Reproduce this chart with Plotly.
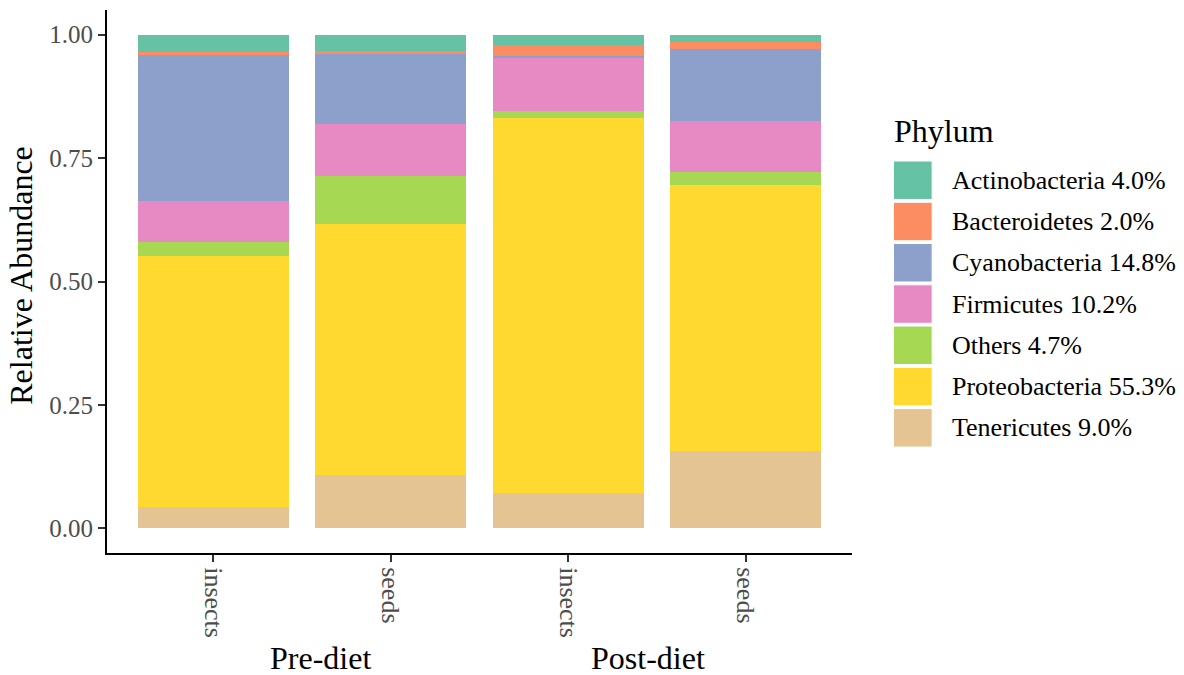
import plotly.graph_objects as go

# Samples (diet phase x food type)
sample_pos = [1, 2, 3, 4]
sample_labels = ["insects", "seeds", "insects", "seeds"]
phase_labels = ["Pre-diet", "Post-diet"]
phase_pos = [1.606, 3.45]

# Relative abundance per phylum, one value per sample
tenericutes = [0.0425, 0.108, 0.071, 0.157]
proteobacteria = [0.5095, 0.508, 0.760, 0.538]
others = [0.029, 0.097, 0.014, 0.027]
firmicutes = [0.082, 0.106, 0.107, 0.103]
cyanobacteria = [0.296, 0.142, 0.005, 0.145]
bacteroidetes = [0.005, 0.005, 0.022, 0.016]
actinobacteria = [0.036, 0.034, 0.021, 0.014]

phyla = ["Actinobacteria", "Bacteroidetes", "Cyanobacteria", "Firmicutes",
         "Others", "Proteobacteria", "Tenericutes"]
legend_labels = ["Actinobacteria 4.0%", "Bacteroidetes 2.0%", "Cyanobacteria 14.8%",
                 "Firmicutes 10.2%", "Others 4.7%", "Proteobacteria 55.3%",
                 "Tenericutes 9.0%"]
colors = ["#66C2A5", "#FC8D62", "#8DA0CB", "#E78AC3", "#A6D854", "#FFD92F", "#E5C494"]
values = [actinobacteria, bacteroidetes, cyanobacteria, firmicutes,
          others, proteobacteria, tenericutes]

FONT = "Liberation Serif"

fig = go.Figure()
# stack from the bottom (Tenericutes) up to Actinobacteria
for name, col, vals in reversed(list(zip(phyla, colors, values))):
    fig.add_trace(go.Bar(
        x=sample_pos, y=vals, name=name, width=0.85,
        marker=dict(color=col, line=dict(width=0)),
        showlegend=False,
    ))

# plot area in pixels
L, R, T, B = 107, 852.5, 9.6, 553
W, H = 1184, 675
pw, ph = R - L, B - T

def px_x(x):
    return (x - L) / pw

def px_y(y):
    return (B - y) / ph

shapes = []
annotations = []

# legend: title, square keys, labels
annotations.append(dict(text="Phylum", x=px_x(893), y=px_y(131), xref="paper", yref="paper",
                        xanchor="left", yanchor="middle", showarrow=False,
                        font=dict(family=FONT, size=32, color="black")))
key_top, key_size, key_step = 160.7, 38.5, 41.3
for i, (lab, col) in enumerate(zip(legend_labels, colors)):
    y0 = key_top + i * key_step
    shapes.append(dict(type="rect", xref="paper", yref="paper",
                       x0=px_x(894), x1=px_x(932.7), y0=px_y(y0 + key_size), y1=px_y(y0),
                       fillcolor=col, line=dict(color="white", width=1)))
    annotations.append(dict(text=lab, x=px_x(951), y=px_y(y0 + key_size / 2),
                            xref="paper", yref="paper", xanchor="left", yanchor="middle",
                            showarrow=False, font=dict(family=FONT, size=26, color="black")))

# diet phase labels under the sample labels
for lab, xp in zip(phase_labels, phase_pos):
    annotations.append(dict(text=lab, x=xp, y=px_y(658), xref="x", yref="paper",
                            xanchor="center", yanchor="middle", showarrow=False,
                            font=dict(family=FONT, size=32, color="black")))

# y axis title
annotations.append(dict(text="Relative Abundance", x=px_x(21), y=px_y(275.5),
                        xref="paper", yref="paper", xanchor="center", yanchor="middle",
                        textangle=-90, showarrow=False,
                        font=dict(family=FONT, size=32, color="black")))

fig.update_layout(
    width=W, height=H,
    margin=dict(l=L, r=W - R, t=T, b=H - B, pad=0),
    paper_bgcolor="white", plot_bgcolor="white",
    barmode="stack", bargap=0,
    shapes=shapes, annotations=annotations,
    font=dict(family=FONT),
)
fig.update_xaxes(
    range=[0.4, 4.6], tickmode="array", tickvals=sample_pos, ticktext=sample_labels,
    tickangle=90, showline=True, linecolor="black", linewidth=2,
    ticks="outside", ticklen=7, tickwidth=1.5, tickcolor="#333333",
    tickfont=dict(family=FONT, size=26, color="#4D4D4D"),
    showgrid=False, zeroline=False,
)
fig.update_yaxes(
    range=[-0.05, 1.05], tickmode="array", tickvals=[0, 0.25, 0.5, 0.75, 1.0],
    ticktext=["0.00", "0.25", "0.50", "0.75", "1.00"],
    showline=True, linecolor="black", linewidth=2,
    ticks="outside", ticklen=7, tickwidth=1.5, tickcolor="#333333",
    tickfont=dict(family=FONT, size=25, color="#4D4D4D"),
    showgrid=False, zeroline=False,
)

fig.write_html("out.html")
